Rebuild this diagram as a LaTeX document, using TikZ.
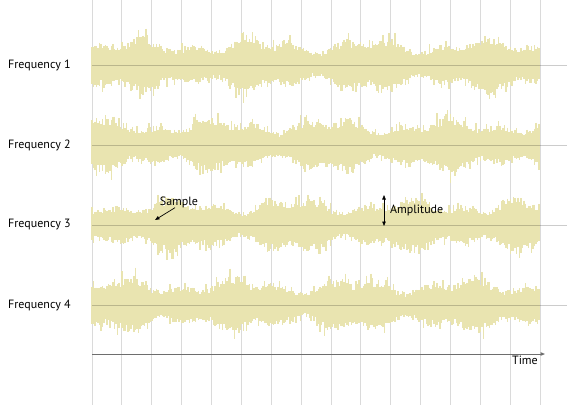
\documentclass[tikz,border=0pt]{standalone}
\usepackage{fontspec}
\setmainfont{PT Sans}
\usetikzlibrary{arrows.meta,positioning}
\definecolor{wave}{HTML}{E9E4B0}
\definecolor{gridgray}{HTML}{DADADA}
\definecolor{axisgray}{HTML}{6E6E6E}
\tikzset{
  gridline/.style={
    draw = gridgray,
    line width = 0.9pt
  },
  rowline/.style={
    draw = black,
    opacity = 0.2,
    line width = 0.8pt
  },
  sampleline/.style={
    draw = wave,
    line width = 1.1pt
  },
  rowlabel/.style={
    anchor = west,
    inner sep = 0pt,
    font = \fontsize{12}{14}\selectfont
  },
  note/.style={
    inner sep = 1pt,
    font = \fontsize{12}{14}\selectfont
  },
  pointer/.style={
    -{Triangle[length=4.5pt,width=3.5pt]},
    line width = 0.7pt
  },
}

\begin{document}
\begin{tikzpicture}[x=1pt,y=-1pt]
    \useasboundingbox (0,0) rectangle (567,405);
    % grid
    \foreach \k in {0,...,15}{
      \draw[gridline] (92+29.87*\k,0) -- (92+29.87*\k,405);
    }
    % waveforms
    \pgfmathsetseed{4711}
    \foreach \r/\y/\pa/\pb in {1/65/20/110, 2/145/140/35, 3/225/260/300, 4/305/75/200}{
      \foreach \x in {92,93.5,...,540}{
        \pgfmathsetmacro\env{20+5*sin(3.1*\x+\pa)+4*sin(7.3*\x+\pb)}
        \pgfmathsetmacro\up{\env*(0.7+0.3*rnd+0.4*pow(rnd,5))}
        \pgfmathsetmacro\dn{\env*(0.7+0.3*rnd+0.4*pow(rnd,5))}
        \draw[sampleline] (\x,\y-\up) -- (\x,\y+\dn);
      }
      \draw[rowline] (92,\y) -- (567,\y);
      \node[rowlabel] (freq\r) at (8,\y) {Frequency \r};
    }
    % sample pointer
    \node[note] (sample) at (179,202) {Sample};
    \coordinate (sampletip) at (155,220);
    \draw[pointer] ([xshift=-4pt,yshift=1pt]sample.south) -- (sampletip);
    % amplitude
    \coordinate (amptop) at (384,195);
    \coordinate (ampbot) at (384,226);
    \draw[pointer,{Triangle[length=4.5pt,width=3.5pt]}-{Triangle[length=4.5pt,width=3.5pt]}] (amptop) -- (ampbot);
    \node[note, anchor=west] (amp) at (389,210) {Amplitude};
    % time axis
    \coordinate (tstart) at (92,354);
    \coordinate (tend) at (545,354);
    \draw[pointer, draw=axisgray, fill=axisgray, line width=1pt] (tstart) -- (tend);
    \node[note, anchor=north east] (time) at (539,355) {Time};
\end{tikzpicture}
\end{document}
